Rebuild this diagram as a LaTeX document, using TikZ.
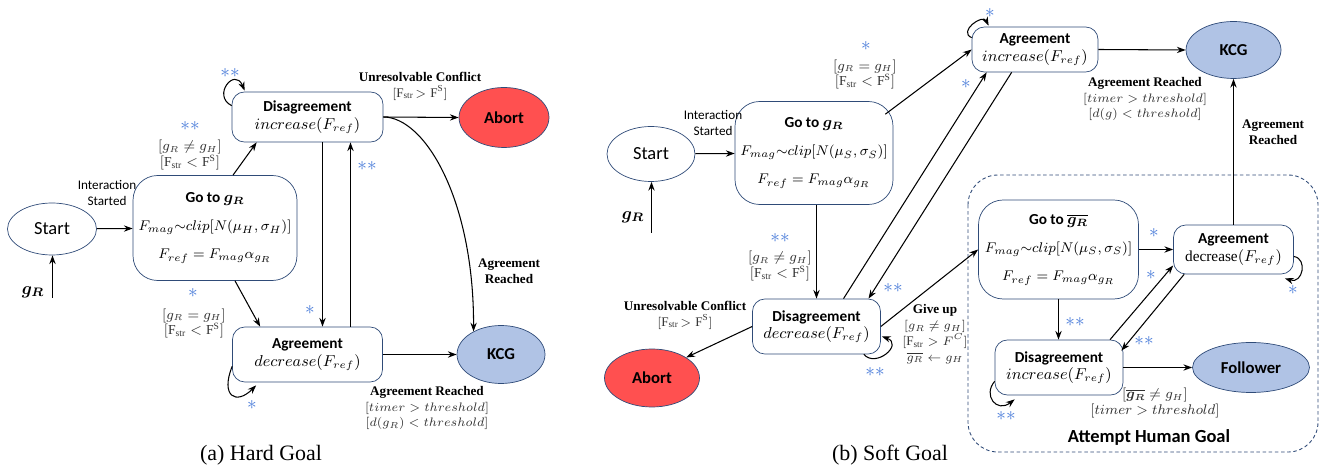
\documentclass[tikz,border=0pt]{standalone}
\usepackage{amsmath}
\usepackage{fontspec}
\setmainfont{Liberation Serif}
\setsansfont{Carlito}
\usetikzlibrary{shapes.geometric,arrows.meta,calc}
\definecolor{boxblue}{RGB}{47,75,120}
\definecolor{starblue}{RGB}{74,124,217}
\definecolor{abortred}{RGB}{255,80,80}
\definecolor{kcgblue}{RGB}{176,195,229}
\tikzstyle{state} = [draw=boxblue, fill=white, rounded corners=7pt, align=center, inner sep=0pt, font=\sffamily\fontsize{9}{10}\selectfont]
\tikzstyle{goto} = [state, rounded corners=14pt]
\tikzstyle{init} = [ellipse, draw=boxblue, inner sep=0pt, font=\sffamily\fontsize{10.5}{12}\selectfont]
\tikzstyle{term} = [ellipse, draw=boxblue, inner sep=0pt, font=\sffamily\bfseries\fontsize{9.5}{11}\selectfont]
\tikzstyle{note} = [align=center, inner sep=0pt, font=\sffamily\fontsize{7.5}{9}\selectfont]
\tikzstyle{cond} = [align=center, inner sep=0pt, text=black!80, font=\fontsize{7.8}{9}\selectfont]
\tikzstyle{event} = [align=center, inner sep=0pt, font=\bfseries\fontsize{7.5}{9}\selectfont]
\tikzstyle{star} = [text=starblue, inner sep=0pt, font=\fontsize{11}{11}\selectfont]
\tikzstyle{edge} = [-{Stealth[length=5pt,width=3.6pt]}, line width=0.6pt]
\newcommand{\ttl}[1]{{\fontsize{8.7}{10}\selectfont\bfseries #1}}
\newcommand{\act}[2][8.7]{{\fontsize{#1}{#1}\selectfont$#2$}}
\newcommand{\one}{$\ast$}
\newcommand{\two}{$\ast\ast$}
\newcommand{\fstr}{\mathrm{F}_{\mathrm{str}}}

\begin{document}
\begin{tikzpicture}[x=0.02cm, y=-0.02cm]
\useasboundingbox (0,0) rectangle (1325,472);
% hard goal
\node[init, minimum width=1.78cm, minimum height=1.04cm] (start1) at (52,229) {Start};
\node[goto, minimum width=3.28cm, minimum height=2.1cm] (goto1) at (215,228) {\ttl{Go to $\boldsymbol{g_R}$}\\[6pt]\act[8.4]{F_{mag}{\sim}clip[N(\mu_H,\sigma_H)]}\\[6pt]\act[8.4]{F_{ref}=F_{mag}\alpha_{g_R}}};
\node[state, minimum width=3.02cm, minimum height=1cm] (dis1) at (307.5,117) {\ttl{Disagreement}\\\act{increase(F_{ref})}};
\node[state, minimum width=3cm, minimum height=1.1cm] (agr1) at (307.5,354.5) {\ttl{Agreement}\\\act{decrease(F_{ref})}};
\node[term, fill=abortred, minimum width=1.8cm, minimum height=1.2cm] (abort1) at (504,117.5) {Abort};
\node[term, fill=kcgblue, minimum width=1.76cm, minimum height=1.16cm] (kcg1) at (501,354.5) {KCG};
\node (gr1) at (33,292) {$\boldsymbol{g_R}$};
\coordinate (in1) at (52.5,298);

\draw[edge] (in1) -- (in1 |- start1.south);
\draw[edge] (start1) -- (goto1);
\draw[edge] ($(goto1.north)+(18,0)$) -- ($(dis1.south west)+(25,0)$);
\draw[edge] ($(goto1.south)+(20,0)$) -- ($(agr1.north west)+(28,0)$);
\draw[edge] (dis1.east) -- (abort1.west);
\draw[edge] ($(dis1.south)+(15,0)$) -- ($(agr1.north)+(15,0)$);
\draw[edge] ($(agr1.north)+(43,0)$) -- ($(dis1.south)+(43,0)$);
\draw[edge] (agr1.east) -- (kcg1.west);
\draw[edge] (dis1.east) .. controls (425,117) and (474,200) .. (kcg1.140);
\draw[edge] ($(dis1.north west)+(0,14)$) .. controls +(-20,-10) and +(-10,-24) .. ($(dis1.north west)+(13,-1)$);
\draw[edge] ($(agr1.south west)+(0,-16)$) .. controls +(-12,30) and +(-20,20) .. ($(agr1.south west)+(24,3)$);

\node[note] (int1) at (107,193) {Interaction\\Started};
\node[cond] (c1a) at (190,155) {$[g_R \neq g_H]$\\$[\fstr < \mathrm{F}^{\mathrm{S}}]$};
\node[cond] (c1b) at (194,323.5) {$[g_R = g_H]$\\$[\fstr < \mathrm{F}^{\mathrm{S}}]$};
\node[event] (uc1) at (420,86) {Unresolvable Conflict\\{\color{black!80}$[\fstr\!> \mathrm{F}^{\mathrm{S}}]$}};
\node[event] (ar1) at (509,271) {Agreement\\Reached};
\node[event] (ar1b) at (427,408) {Agreement Reached\\{\color{black!80}$[timer > threshold]$}\\{\color{black!80}$[d(g_R) < threshold]$}};
\node[star] at (230,73) {\two};
\node[star] at (190,126) {\two};
\node[star] at (193,293) {\one};
\node[star] at (310,310) {\one};
\node[star] at (367,166) {\two};
\node[star] at (252,405) {\one};
\node[font=\fontsize{12.5}{14}\selectfont] (capa) at (261,455) {(a) Hard Goal};

% soft goal
\draw[boxblue, dash pattern=on 2pt off 1.5pt, rounded corners=17pt, line width=0.5pt] (968,175) rectangle (1318,452);
\node[init, minimum width=1.76cm, minimum height=1.1cm] (start2) at (651,154) {Start};
\node[goto, minimum width=3.16cm, minimum height=2.06cm] (goto2) at (814,153) {\ttl{Go to $\boldsymbol{g_R}$}\\[6pt]\act[8.4]{F_{mag}{\sim}clip[N(\mu_S,\sigma_S)]}\\[6pt]\act[8.4]{F_{ref}=F_{mag}\alpha_{g_R}}};
\node[state, minimum width=2.52cm, minimum height=0.9cm] (agr2) at (1035,49.5) {\ttl{Agreement}\\\act{increase(F_{ref})}};
\node[state, minimum width=2.56cm, minimum height=1.1cm] (dis2) at (816.5,326.5) {\ttl{Disagreement}\\\act{decrease(F_{ref})}};
\node[term, fill=kcgblue, minimum width=1.9cm, minimum height=1.14cm] (kcg2) at (1233.5,50) {KCG};
\node[term, fill=abortred, minimum width=1.9cm, minimum height=1.16cm] (abort2) at (652,378) {Abort};
\node[goto, minimum width=3.2cm, minimum height=1.98cm] (goto3) at (1058.5,249.5) {\ttl{Go to $\overline{\boldsymbol{g_R}}$}\\[6pt]\act[8.4]{F_{mag}{\sim}clip[N(\mu_S,\sigma_S)]}\\[6pt]\act[8.4]{F_{ref}=F_{mag}\alpha_{g_R}}};
\node[state, minimum width=2.4cm, minimum height=0.98cm] (agr3) at (1233.5,249.5) {\ttl{Agreement}\\\act{\mathrm{decrease}(F_{ref})}};
\node[state, minimum width=2.56cm, minimum height=1.1cm] (dis3) at (1059,367.5) {\ttl{Disagreement}\\\act{increase(F_{ref})}};
\node[term, fill=kcgblue, minimum width=2.34cm, minimum height=1cm] (follow) at (1251,367.5) {Follower};
\node (gr2) at (633,217) {$\boldsymbol{g_R}$};
\coordinate (in2) at (651.5,233);

\draw[edge] (in2) -- (in2 |- start2.south);
\draw[edge] (start2) -- (goto2);
\draw[edge] ($(goto2.north east)+(-8,13)$) -- (agr2.west);
\draw[edge] (agr2.east) -- (kcg2.west);
\draw[edge] (dis2.north |- goto2.south) -- (dis2.north);
\draw[edge] (dis2.west) -- (abort2.31);
\draw[edge] ($(dis2.north)+(27,0)$) -- ($(agr2.south west)+(15,0)$);
\draw[edge] ($(agr2.south west)+(40,0)$) -- ($(dis2.north)+(52,0)$);
\draw[edge] (dis2.east) -- (goto3.west);
\draw[edge] (goto3.east) -- (agr3.west);
\draw[edge] (agr3.north) -- (agr3.north |- kcg2.south);
\draw[edge] (goto3.south) -- (goto3.south |- dis3.north);
\draw[edge] ($(dis3.north)+(51,0)$) -- ($(agr3.west)+(0,16)$);
\draw[edge] ($(agr3.south west)+(11,0)$) -- ($(dis3.north east)+(-2,11)$);
\draw[edge] (dis3.east) -- (follow.west);
\draw[edge] ($(agr2.north west)+(0,11)$) .. controls +(-14,-6) and +(-6,-12) .. ($(agr2.north west)+(17,-1)$);
\draw[edge] ($(dis2.south east)+(-17,0)$) .. controls +(12,14) and +(22,8) .. ($(dis2.south east)+(1,-18)$);
\draw[edge] ($(agr3.east)+(0,7)$) .. controls +(14,2) and +(18,6) .. ($(agr3.south east)+(-9,4)$);
\draw[edge] ($(dis3.south west)+(0,-14)$) .. controls +(-12,14) and +(-18,14) .. ($(dis3.south west)+(20,4)$);

\node[note] (int2) at (713,123) {Interaction\\Started};
\node[cond] (c2a) at (865,74.5) {$[g_R = g_H]$\\$[\fstr < \mathrm{F}^{\mathrm{S}}]$};
\node[cond] (c2b) at (780,266) {$[g_R \neq g_H]$\\$[\fstr < \mathrm{F}^{\mathrm{S}}]$};
\node[event] (uc2) at (685,315) {Unresolvable Conflict\\{\color{black!80}$[\fstr\!> \mathrm{F}^{\mathrm{S}}]$}};
\node[event] (gu) at (935,334) {Give up\\{\color{black!80}$[g_R \neq g_H]$}\\{\color{black!80}$[\fstr > F^{C}]$}\\{\color{black!80}$\overline{g_R} \leftarrow g_H$}};
\node[event] (ar2) at (1145,99) {Agreement Reached\\{\color{black!80}$[timer > threshold]$}\\{\color{black!80}$[d(g) < threshold]$}};
\node[event] (ar3) at (1273,132.5) {Agreement\\Reached};
\node[cond] (c3) at (1155,403) {$[\overline{\boldsymbol{g_R}} \neq g_H]$\\$[timer > threshold]$};
\node[font=\sffamily\bfseries\fontsize{10.5}{12}\selectfont] (goal) at (1149,437) {Attempt Human Goal};
\node[star] at (990,13) {\one};
\node[star] at (866,46) {\one};
\node[star] at (966,84) {\one};
\node[star] at (893,288) {\two};
\node[star] at (875,372) {\two};
\node[star] at (780,238) {\two};
\node[star] at (1154,233) {\one};
\node[star] at (1293,290) {\one};
\node[star] at (1151,275) {\one};
\node[star] at (1144,341) {\two};
\node[star] at (1075,322) {\two};
\node[star] at (1006,416) {\two};
\node[font=\fontsize{12.5}{14}\selectfont] (capb) at (890,455) {(b) Soft Goal};
\end{tikzpicture}
\end{document}
